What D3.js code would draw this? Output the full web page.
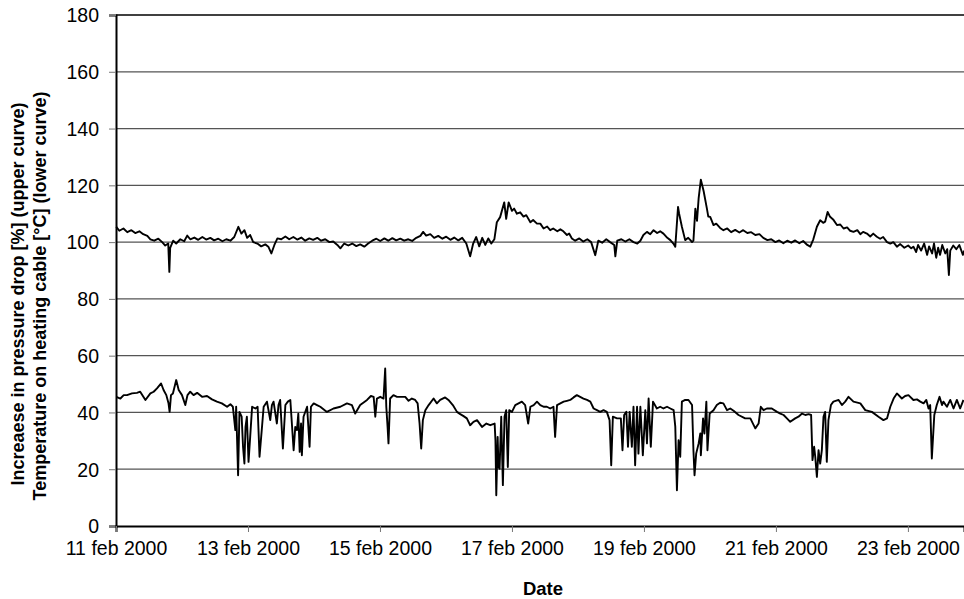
<!DOCTYPE html>
<html>
<head>
<meta charset="utf-8">
<script src="https://cdn.jsdelivr.net/npm/d3@7"></script>
<style>
  body { margin: 0; background: #fff; }
  svg { display: block; font-family: "Liberation Sans", Arial, sans-serif; }
</style>
</head>
<body>
<div id="viz"></div>
<script>
// hours after 11 feb 2000 00:00
var upperHours = [0.1,1.2,2.7,4.1,5.6,7.0,8.5,9.9,11.4,12.5,13.9,15.4,16.8,17.9,19.0,19.4,19.7,20.8,21.9,23.4,24.8,25.9,27.0,28.5,29.9,31.4,32.8,34.3,35.7,37.2,38.7,40.1,41.6,43.0,44.5,45.6,46.7,47.7,48.8,49.9,51.4,52.8,54.3,55.4,56.5,57.6,58.7,60.1,61.6,63.0,64.5,65.9,67.4,68.8,70.3,71.7,73.2,74.6,76.1,77.6,79.0,80.5,81.6,83.0,84.5,85.9,87.4,88.8,90.3,91.7,93.2,94.7,96.1,97.6,99.0,100.5,101.9,103.4,104.8,106.3,107.7,109.2,110.7,111.7,112.8,114.3,115.7,117.2,118.7,120.1,121.6,123.0,124.5,125.9,127.4,128.8,129.9,131.0,132.1,133.2,134.3,135.4,136.5,137.6,138.5,139.7,141.2,141.9,142.8,144.0,144.8,145.8,147.0,148.2,149.2,150.7,151.7,153.1,154.3,155.5,156.8,157.9,159.0,160.5,161.6,162.7,164.0,164.8,165.8,167.0,168.5,169.9,171.4,172.8,174.3,175.4,176.8,178.3,179.7,181.2,181.6,182.3,183.8,185.2,186.7,188.2,189.6,190.7,191.8,193.1,194.3,195.5,196.8,197.9,199.1,200.5,201.6,202.7,203.4,204.4,204.8,205.8,207.0,208.1,208.9,209.5,210.0,210.7,211.3,211.9,212.7,213.7,214.9,215.4,216.1,217.3,218.3,219.7,220.9,222.3,223.7,225.2,226.7,228.1,229.6,231.0,232.5,234.0,235.4,236.9,238.3,239.8,241.2,242.7,244.1,245.6,247.0,248.5,249.9,251.4,252.5,253.6,254.9,256.1,257.2,257.9,258.8,259.7,260.8,262.2,263.4,264.6,265.9,267.0,268.2,269.6,270.7,271.7,273.1,274.3,275.4,276.7,277.9,279.0,280.4,281.6,282.7,284.0,285.2,286.7,288.1,289.2,290.0,291.0,291.7,292.8,293.9,295.0,295.7,296.8,297.5,298.3,299.0,299.7,300.5,301.6,302.3,302.9,303.4,304.5,305.6,306.7,308.0,308.5];
var upperDrop = [105.4,104,104.8,103.5,104.2,103.2,103.8,102.8,102.2,101,100.5,101.2,100,98.8,99.5,89.5,98,100.5,99.5,101,100.3,102.3,101,101.6,100.8,101.8,100.9,101.5,100.6,101.2,100.3,101,100.5,101.8,105.4,103,104.2,101.5,102.5,100,99.5,98.5,99.2,98.4,96,99,101.3,101,102,101,101.8,100.9,101.6,100.5,101.3,100.8,101.5,100.5,101,100,100.2,99,97.8,99.5,98.8,99.5,98.6,99.2,98.4,99.5,100.5,101.2,100.4,101.3,100.5,101.4,100.6,101.2,100.5,101,100.4,101.5,102.2,103.6,102.3,102.8,101.5,102.2,101.2,101.9,100.8,101.6,100.6,101.5,99.5,95,99.5,101.8,98.5,101.5,99,101.3,99.5,101,107,108.8,114,108.2,114,111,111.8,110,110.5,109,109.5,107,107.8,106.5,106.5,104.8,105.5,104.2,104.8,103.8,104.5,103.8,102.5,103,101.3,100.5,101.3,100.2,101,100,95.4,100.5,99.8,101,100,99,95,100.5,101,100.2,101,100,99.5,100.5,102.5,103.6,102.8,104.2,103.2,103.8,103,101.5,100.7,99.5,98.4,112.4,110,105.4,100.7,101.5,100.7,100,100.5,111.8,107.5,115.5,122,118,111.8,109,108.9,106,106.5,105,104.2,104.8,103.5,104.3,103.4,104.2,103.2,103.5,102.5,102.8,101.5,100.7,101,100,100.6,99.6,100.5,99.8,100.6,99.6,100.4,99,98.4,101,105.4,107.7,106.8,107.2,110.6,108.9,108,106,106.2,104.8,105.2,104,103.6,104.2,102.8,103.6,103,102,103,101.9,101.2,101.8,100,99.5,100,98.4,99.3,98,98.8,97.8,98.4,96.5,99,97,99.5,95.5,98.5,96,99.5,94.5,98,95.5,99,96,97.5,88.4,97,98.8,97.5,99,95.5,97];

var lowerHours = [0.1,1.6,2.8,4.0,5.8,7.6,8.8,10.7,12.5,13.7,14.9,16.4,17.3,18.3,19.1,19.5,20.0,20.7,21.9,22.8,24.0,25.2,26.0,27.0,28.2,29.5,31.3,33.1,34.9,36.7,38.5,40.4,41.6,42.5,43.4,43.7,44.4,44.9,45.7,46.2,46.7,47.1,47.6,48.2,48.8,49.5,50.7,51.5,52.2,53.1,53.7,54.9,56.1,56.7,57.3,58.5,59.1,59.7,60.7,61.6,62.5,63.4,64.6,65.2,65.8,66.3,66.8,67.3,67.6,68.2,69.5,70.4,70.9,71.9,73.1,74.3,76.7,79.1,81.6,84.0,85.8,87.0,88.8,91.3,92.7,93.7,94.3,94.9,96.1,97.3,97.9,98.3,98.8,99.1,99.7,100.9,102.2,103.4,105.2,106.4,107.6,108.8,109.7,110.4,111.0,111.6,112.5,113.7,115.5,116.7,117.9,119.7,120.9,122.5,124.0,125.2,126.4,127.6,128.8,130.0,131.3,133.1,134.7,136.1,137.7,138.0,138.3,138.8,139.1,139.5,140.1,140.7,141.3,141.9,142.5,143.0,144.0,145.2,146.4,147.6,148.8,149.9,150.7,151.9,153.1,154.3,155.5,156.7,157.9,159.1,159.7,160.4,161.6,162.8,164.0,165.2,166.4,167.6,168.8,170.0,171.3,172.5,173.7,174.9,176.1,177.3,178.5,179.5,180.1,180.7,182.2,183.6,184.2,184.8,185.6,186.2,186.8,187.6,188.2,188.8,189.5,190.0,190.7,191.6,192.5,193.1,193.7,194.5,195.3,196.7,197.9,199.1,200.4,201.6,202.8,203.4,204.0,204.6,205.2,205.8,207.0,208.2,209.5,210.0,210.4,211.0,211.9,212.5,212.7,213.5,214.0,214.7,215.1,215.9,217.3,218.5,219.7,220.9,222.2,223.4,224.6,226.4,228.8,230.7,232.5,233.7,234.5,235.5,236.7,238.5,240.4,241.6,242.8,244.0,245.2,247.0,248.2,249.5,250.7,251.9,252.8,253.3,253.9,254.3,254.9,255.5,256.1,256.7,257.3,257.9,258.5,259.1,260.0,260.9,262.8,264.0,265.2,266.4,268.2,270.7,272.5,274.9,277.3,279.1,280.4,281.6,282.8,284.0,285.8,287.0,288.2,290.0,291.3,292.5,293.7,294.7,295.5,296.1,296.7,297.6,298.5,299.5,300.4,300.9,302.2,303.4,304.6,305.8,307.0,308.2];
var lowerTemp = [45.5,44.9,46.1,46.1,46.7,46.9,47.3,44.4,46.7,47.3,48.5,50.2,47.9,46.1,43.2,40.2,46.1,46.7,51.4,47.9,46.1,42.6,46.1,47.3,46.1,46.9,45.5,45.8,44.6,43.8,43.2,42,42.9,42,33.8,42,17.9,40.2,38.5,27.9,22,34.9,38.5,22.6,31.4,42,41.4,42,24.4,34.9,42,43.8,37.3,42.6,43.8,36.1,42.6,44.4,27.3,42.6,43.8,44.4,26.7,34.9,33.8,39.6,26.1,36.1,24.9,38.5,42,27.9,42,43.2,42.6,42,40.2,41.4,42,43.2,42.6,39.6,42.6,44.4,45.8,45.5,38.5,44.9,45.5,44.9,55.5,42,34.4,29.1,44.9,46.1,45.5,45.5,45.5,44.1,44.9,44.4,43.2,36.1,27.3,37.3,40.8,42.6,44.9,43.2,44.4,45.3,44.4,42.6,40.2,39.4,38.7,37.9,35.5,36.7,37.3,34.9,36.1,35.5,36.1,30.2,10.8,31.4,20.8,20.2,38.5,14.4,38.5,40.8,20.8,40.8,40.2,42.6,43.2,43.8,42.6,36.1,42,42.6,43.8,42.6,42,42,41.4,42,31.4,42.6,43.2,43.8,44.1,44.4,45.3,46.1,45.5,44.9,44.4,43.8,41.4,40.8,40.2,40.8,40.2,37.3,21.4,38.5,37.9,37.9,26.7,39.1,40.2,27.9,40.2,27.9,42,21.4,42,25.5,42,24.9,40.8,29.1,44.9,27.9,43.8,41.4,42,41.4,42,41.4,40.8,35,12.6,30.2,24.4,43.8,44.4,44.4,42.6,26.7,17.9,25.5,29.1,32.6,24.9,37.9,32.6,43.8,26.7,39.6,40.8,42.6,43.4,43.2,40.8,41.4,40.6,39.1,37.9,37.9,34.4,36.1,42,40.8,41.4,41.4,40.2,39.6,39.1,37.9,36.7,37.9,38.5,39.6,39.1,39.4,39.1,23.2,27.9,24.4,17.3,26.7,22,26.7,38.5,40.2,22.6,37.3,42.6,43.8,44.4,42.6,43.8,45.5,43.8,43.2,40.8,40.2,38.5,37.3,37.9,42,44.9,46.7,44.9,45.8,46.1,44.4,44.6,43.8,43.2,44.4,41.4,42.6,23.8,39.1,42.6,45.5,42.6,43.8,42,44.4,41.4,44.4,41.4,44.4];

var yTicks = [0, 20, 40, 60, 80, 100, 120, 140, 160, 180];
var yTitle = ["Increaese in pressure drop [%] (upper curve)", "Temperature on heating cable [\u00B0C] (lower curve)"];
var xTitle = "Date";

(function() {
  var width = 964, height = 599;
  var mLeft = 116, mRight = 964, mTop = 15, mBottom = 526;
  var start = new Date(2000, 1, 11);
  var hourMs = 3600 * 1000;

  var toDate = function(h) { return new Date(start.getTime() + h * hourMs); };

  var x = d3.scaleTime()
    .domain([start, toDate(308.4)])
    .range([mLeft, mRight]);

  var y = d3.scaleLinear()
    .domain([0, 180])
    .range([mBottom, mTop]);

  var svg = d3.select("#viz").append("svg")
    .attr("width", width)
    .attr("height", height);

  // horizontal grid
  svg.append("g").selectAll("line").data(yTicks.slice(1)).enter().append("line")
    .attr("x1", mLeft).attr("x2", mRight)
    .attr("y1", function(d) { return y(d); })
    .attr("y2", function(d) { return y(d); })
    .style("stroke", function(d) { return d === 180 ? "#000" : "#555"; })
    .style("stroke-width", function(d) { return d === 180 ? 1.6 : 1.2; });

  var yAxis = svg.append("g")
    .attr("transform", "translate(" + mLeft + ",0)")
    .call(d3.axisLeft(y).tickValues(yTicks).tickSize(7).tickPadding(10));

  var xAxis = svg.append("g")
    .attr("transform", "translate(0," + mBottom + ")")
    .call(d3.axisBottom(x)
      .ticks(d3.timeDay.every(2))
      .tickSize(6)
      .tickPadding(8)
      .tickFormat(function(d) { return d3.timeFormat("%-d %b %Y")(d).toLowerCase(); }));

  [yAxis, xAxis].forEach(function(a) {
    a.select(".domain").style("stroke", "#000").style("stroke-width", 2);
    a.selectAll(".tick line").style("stroke", "#777").style("stroke-width", 1);
    a.selectAll("text").style("font-size", "19.5px").style("fill", "#000");
  });
  yAxis.selectAll("text").attr("dy", "0.35em");
  xAxis.selectAll("text").attr("dy", "0.75em");

  var line = d3.line()
    .x(function(d) { return x(toDate(d[0])); })
    .y(function(d) { return y(d[1]); });

  var upper = d3.zip(upperHours, upperDrop);
  var lower = d3.zip(lowerHours, lowerTemp);

  svg.append("g").selectAll("path").data([upper, lower]).enter().append("path")
    .attr("d", line)
    .style("fill", "none")
    .style("stroke", "#000")
    .style("stroke-width", 1.9)
    .style("stroke-linejoin", "round");

  svg.append("g").selectAll("text").data(yTitle).enter().append("text")
    .attr("transform", function(d, i) { return "translate(" + (24 + i * 22) + "," + (294 + i * 2) + ") rotate(-90)"; })
    .attr("text-anchor", "middle")
    .style("font-size", "18px")
    .style("font-weight", "bold")
    .text(function(d) { return d; });

  svg.append("text")
    .attr("x", (mLeft + mRight) / 2 + 3)
    .attr("y", 595)
    .attr("text-anchor", "middle")
    .style("font-size", "18.5px")
    .style("font-weight", "bold")
    .text(xTitle);
})();
</script>
</body>
</html>
